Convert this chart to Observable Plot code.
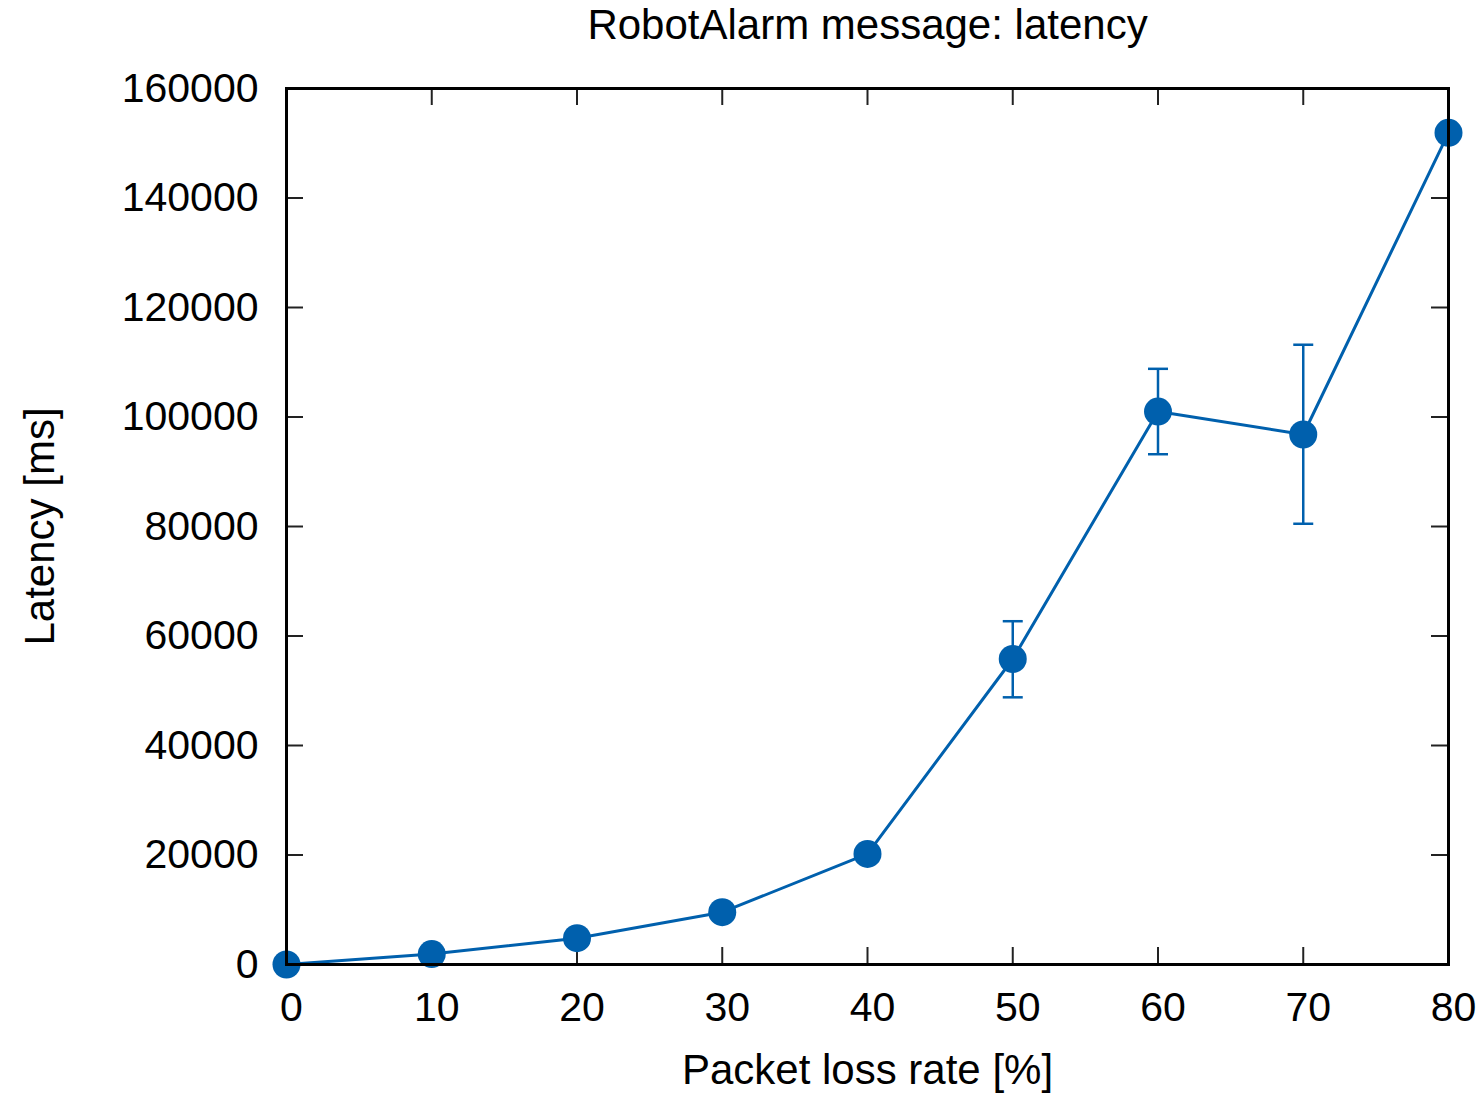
<!DOCTYPE html>
<html>
<head>
<meta charset="utf-8">
<script src="https://cdn.jsdelivr.net/npm/d3@7"></script>
<script src="https://cdn.jsdelivr.net/npm/@observablehq/plot@0.6"></script>
<style>
  html, body { margin: 0; padding: 0; background: #fff; }
  #chart svg { display: block; }
</style>
</head>
<body>
<div id="chart"></div>
<script>
// Packet loss rate [%] and mean latency [ms]
const lossRate = [0, 10, 20, 30, 40, 50, 60, 70, 80];
const latency = [0, 1900, 4800, 9550, 20200, 55800, 101000, 96800, 151900];
// Error bar bounds (null where no bar is drawn)
const errLow = [null, null, null, null, null, 48800, 93200, 80500, null];
const errHigh = [null, null, null, null, null, 62700, 108800, 113200, null];

const xTicks = [0, 10, 20, 30, 40, 50, 60, 70, 80];
const yTicks = [0, 20000, 40000, 60000, 80000, 100000, 120000, 140000, 160000];

const titleText = "RobotAlarm message: latency";
const xLabel = "Packet loss rate [%]";
const yLabel = "Latency [ms]";

const color = "#0060ad";

const points = lossRate.map((x, i) => ({x, y: latency[i], lo: errLow[i], hi: errHigh[i]}));
const bars = points.filter(d => d.lo != null);
const caps = bars.flatMap(d => [{x: d.x, y: d.lo}, {x: d.x, y: d.hi}]);

// horizontal cap glyph for the error bars
const capSymbol = {
  draw(ctx, size) {
    const r = Math.sqrt(size / Math.PI);
    ctx.moveTo(-r, 0);
    ctx.lineTo(r, 0);
  }
};

const W = 1483, H = 1093;
const mL = 286, mR = 35, mT = 88, mB = 129;
const frameW = W - mL - mR, frameH = H - mT - mB;
const tickLen = 17;

const chart = Plot.plot({
  width: W,
  height: H,
  marginLeft: mL,
  marginRight: mR,
  marginTop: mT,
  marginBottom: mB,
  style: {fontFamily: "'Liberation Sans', Arial, sans-serif", background: "#fff", color: "#000"},
  x: {domain: [0, 80], label: null},
  y: {domain: [0, 160000], label: null},
  marks: [
    // tick labels
    Plot.axisX(xTicks, {tickSize: 0, tickPadding: 27, fontSize: 41, dx: 5, label: null}),
    Plot.axisY(yTicks, {tickSize: 0, tickPadding: 28, fontSize: 41, tickFormat: d => String(d), label: null}),
    // inward tick marks on all four sides
    Plot.tickX(xTicks, {x: d => d, insetTop: frameH - tickLen, stroke: "#222", strokeWidth: 2}),
    Plot.tickX(xTicks, {x: d => d, insetBottom: frameH - tickLen, stroke: "#222", strokeWidth: 2}),
    Plot.tickY(yTicks, {y: d => d, insetRight: frameW - tickLen, stroke: "#222", strokeWidth: 2}),
    Plot.tickY(yTicks, {y: d => d, insetLeft: frameW - tickLen, stroke: "#222", strokeWidth: 2}),
    // error bars
    Plot.ruleX(bars, {x: "x", y1: "lo", y2: "hi", stroke: color, strokeWidth: 2.5}),
    Plot.dot(caps, {x: "x", y: "y", symbol: capSymbol, r: 10, stroke: color, strokeWidth: 2.5, fill: "none"}),
    // series
    Plot.line(points, {x: "x", y: "y", stroke: color, strokeWidth: 3}),
    Plot.dot(points, {x: "x", y: "y", r: 14, fill: color, stroke: "none"}),
    // title and axis labels
    Plot.text([titleText], {text: d => d, frameAnchor: "top", lineAnchor: "middle", dy: -63, fontSize: 42, fill: "#000"}),
    Plot.text([xLabel], {text: d => d, frameAnchor: "bottom", lineAnchor: "middle", dy: 106, fontSize: 42, fill: "#000"}),
    Plot.text([yLabel], {text: d => d, frameAnchor: "left", textAnchor: "middle", lineAnchor: "middle", dx: -246, rotate: -90, fontSize: 42, fill: "#000"}),
    Plot.frame({stroke: "#000", strokeWidth: 3})
  ]
});

document.getElementById("chart").appendChild(chart);
</script>
</body>
</html>
